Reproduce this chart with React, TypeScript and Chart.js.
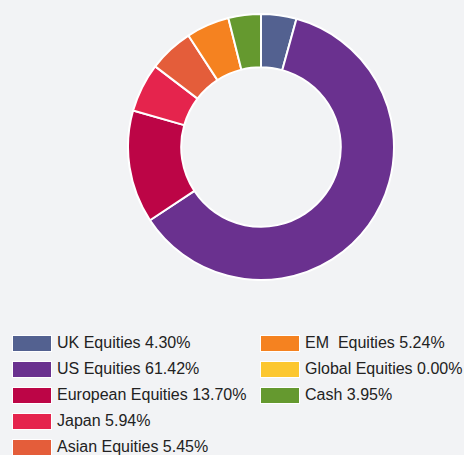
import React, { useEffect, useRef } from "react";
import { Chart, registerables } from "chart.js";

Chart.register(...registerables);

const labels = [
  "UK Equities",
  "US Equities",
  "European Equities",
  "Japan",
  "Asian Equities",
  "EM  Equities",
  "Global Equities",
  "Cash",
];
const values = [4.3, 61.42, 13.7, 5.94, 5.45, 5.24, 0.0, 3.95];
const colors = [
  "#536190",
  "#6a318f",
  "#bc0546",
  "#e5244d",
  "#e45d3a",
  "#f58220",
  "#fcc72f",
  "#65992f",
];
const leftColumn = [0, 1, 2, 3, 4];
const rightColumn = [5, 6, 7];

const BG = "#f2f3f5";

function LegendItem({ i, left, top }: { i: number; left: number; top: number }) {
  return (
    <div
      style={{
        position: "absolute",
        left,
        top,
        display: "flex",
        alignItems: "center",
        whiteSpace: "pre",
      }}
    >
      <div
        style={{
          width: 38,
          height: 15,
          background: colors[i],
          border: "1px solid #ffffff",
          marginRight: 5,
        }}
      />
      <span
        style={{
          fontFamily: "'Liberation Sans', Arial, sans-serif",
          fontSize: 16,
          color: "#222222",
          whiteSpace: "pre",
        }}
      >
        {labels[i] + " " + values[i].toFixed(2) + "%"}
      </span>
    </div>
  );
}

export default function App() {
  const ref = useRef<HTMLCanvasElement | null>(null);

  useEffect(() => {
    document.body.style.margin = "0";
    document.body.style.background = BG;
    const chart = new Chart(ref.current as HTMLCanvasElement, {
      type: "doughnut",
      data: {
        labels,
        datasets: [
          {
            data: values,
            backgroundColor: colors,
            borderColor: "#ffffff",
            borderWidth: 2,
          },
        ],
      },
      options: {
        animation: false,
        responsive: false,
        cutout: "60%",
        layout: { padding: 0 },
        plugins: { legend: { display: false }, tooltip: { enabled: false } },
      },
    });
    return () => chart.destroy();
  }, []);

  return (
    <div
      style={{
        position: "relative",
        width: 464,
        height: 455,
        background: BG,
        overflow: "hidden",
      }}
    >
      <canvas
        ref={ref}
        width={268}
        height={268}
        style={{ position: "absolute", left: 127, top: 13, width: 268, height: 268 }}
      />
      {leftColumn.map((i, k) => (
        <LegendItem key={i} i={i} left={12} top={334 + k * 26} />
      ))}
      {rightColumn.map((i, k) => (
        <LegendItem key={i} i={i} left={260} top={334 + k * 26} />
      ))}
    </div>
  );
}
